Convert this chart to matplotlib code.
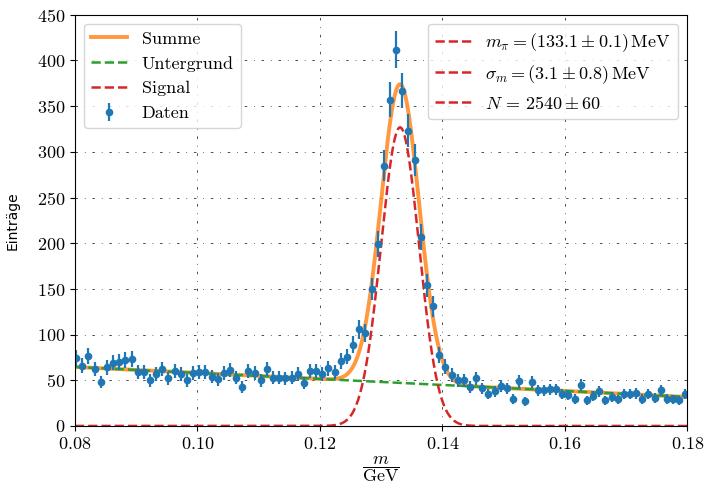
import matplotlib
matplotlib.use("Agg")
import matplotlib.pyplot as plt
import numpy as np
from matplotlib.lines import Line2D

plt.rcParams['font.family'] = ['cmr10', 'DejaVu Serif']
plt.rcParams['mathtext.fontset'] = 'cm'
plt.rcParams['axes.formatter.use_mathtext'] = True
plt.rcParams['font.size'] = 13

# Messdaten (Bin-Mitten und Eintraege)
m_bins = np.linspace(0.0802, 0.1797, 100)
counts = np.array([
    74, 66, 77, 62, 48, 64, 69, 70, 72, 73,
    59, 59, 50, 57, 62, 52, 60, 57, 50, 58,
    59, 59, 54, 51, 58, 61, 53, 43, 60, 58,
    50, 62, 53, 53, 52, 53, 57, 47, 60, 60,
    57, 63, 59, 71, 76, 89, 106, 102, 150, 199,
    285, 357, 412, 367, 323, 291, 207, 154, 131, 78,
    65, 56, 50, 50, 43, 52, 41, 35, 38, 44,
    41, 30, 49, 27, 48, 39, 39, 40, 40, 35,
    34, 30, 45, 28, 33, 38, 28, 32, 29, 35,
    35, 36, 30, 35, 31, 39, 30, 29, 28, 35])
errors = np.sqrt(counts)

# Fitparameter
m_pi = 0.1331
sigma_m = 0.0031
n_sig = 2540
bin_width = 0.001
bg_a = 90.8
bg_b = -328.0

xx = np.linspace(0.08, 0.18, 600)
untergrund = bg_a + bg_b * xx
signal = n_sig * bin_width / (np.sqrt(2 * np.pi) * sigma_m) * np.exp(-0.5 * ((xx - m_pi) / sigma_m) ** 2)
summe = untergrund + signal

fig = plt.figure(figsize=(7.07, 4.93), dpi=100)
ax = fig.add_axes([0.106, 0.136, 0.866, 0.834])

ax.plot(xx, summe, color='C1', lw=2.8, alpha=0.8, label='Summe')
ax.plot(xx, untergrund, '--', color='C2', lw=1.8, label='Untergrund')
ax.plot(xx, signal, '--', color='C3', lw=1.8, label='Signal')
ax.errorbar(m_bins, counts, yerr=errors, fmt='o', ms=4.5, color='C0',
            elinewidth=1.6, label='Daten')

ax.grid(True, color='k', lw=0.7, alpha=0.7, linestyle=(0, (2.6, 7, 0.8, 7)))
ax.set_axisbelow(True)

ax.set_xlim(0.08, 0.18)
ax.set_ylim(0, 450)
ax.set_xlabel(r'$\dfrac{m}{\mathrm{GeV}}$', fontsize=13, labelpad=2)
ax.set_ylabel('Einträge', family='DejaVu Sans', fontsize=10)
ax.yaxis.set_label_coords(-0.09, 0.5)

leg1 = ax.legend(loc='upper left', fontsize=13)
ax.add_artist(leg1)
par_handles = [Line2D([], [], color='C3', ls='--', lw=1.8) for _ in range(3)]
par_labels = [r'$m_\pi = (133.1 \pm 0.1)\,\mathrm{MeV}$',
              r'$\sigma_m = (3.1 \pm 0.8)\,\mathrm{MeV}$',
              r'$N \,=\, 2540 \pm 60$']
ax.legend(par_handles, par_labels, loc='upper right', fontsize=13)

fig.savefig('out.png', dpi=100)
